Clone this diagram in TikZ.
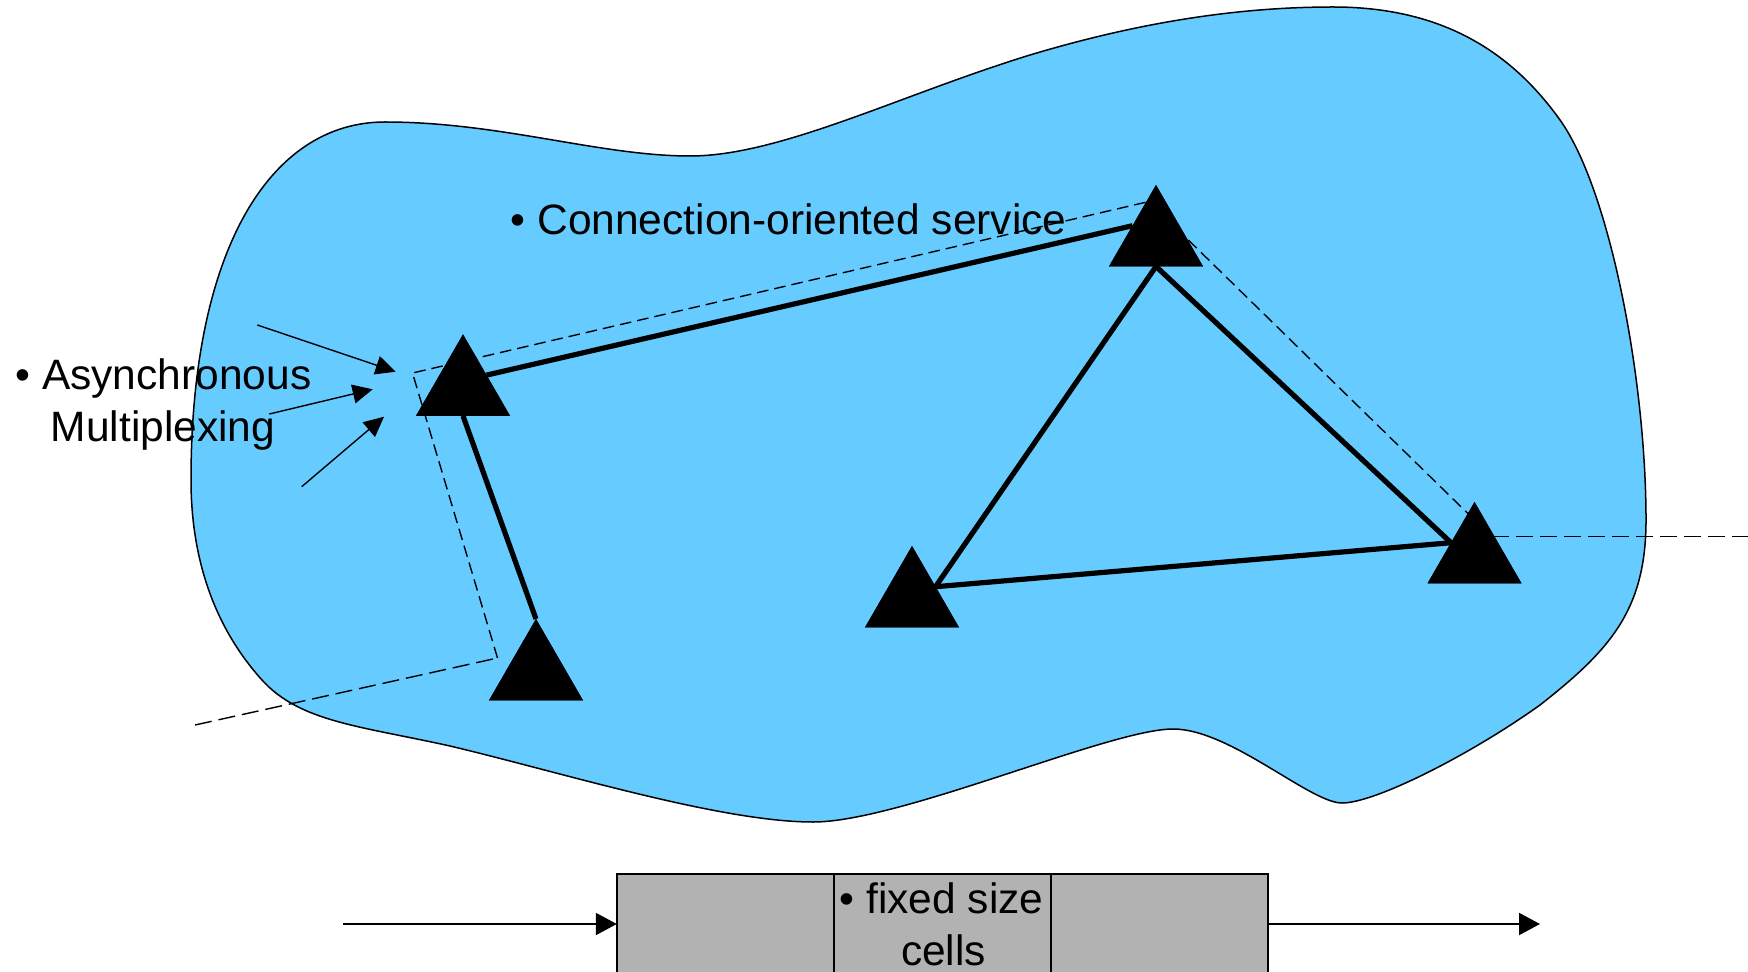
\documentclass[tikz,border=0pt]{standalone}
\usepackage{fontspec}
\setmainfont{Liberation Sans}
\usetikzlibrary{shapes.geometric,arrows.meta}
\definecolor{cloudblue}{HTML}{66CCFF}
\definecolor{cellgray}{HTML}{B2B2B2}
\begin{document}
\begin{tikzpicture}[x=0.5pt,y=-0.5pt,
  switch/.style={regular polygon, regular polygon sides=3, minimum size=54.3pt,
                 inner sep=0pt, outer sep=0pt, fill=black, draw=none},
  trunk/.style={line width=2.6pt},
  vcpath/.style={line width=0.7pt, dash pattern=on 5.8pt off 3pt},
  vclong/.style={line width=0.7pt, dash pattern=on 8.5pt off 3.5pt},
  feed/.style={line width=0.7pt, -{Triangle[length=10pt,width=9.5pt]}},
  flow/.style={line width=1pt, -{Triangle[length=10.5pt,width=11pt]}},
  cell/.style={draw=black, line width=1pt, fill=cellgray, minimum width=108.5pt,
               minimum height=50pt, inner sep=0pt, outer sep=0pt},
  txt/.style={font=\fontsize{21.25pt}{25.85pt}\selectfont, inner sep=0pt, outer sep=0pt}
]
\clip (0,0) rectangle (1748,972);

% the network cloud
\draw[line width=0.75pt, fill=cloudblue]
  (191,480) .. controls (191,250) and (270,122) .. (385,122)
  .. controls (500,122) and (600,156) .. (690,156)
  .. controls (780,156) and (900,95) .. (1030,55)
  .. controls (1130,25) and (1230,7) .. (1333,7)
  .. controls (1440,7) and (1510,50) .. (1560,120)
  .. controls (1610,190) and (1646,380) .. (1646,520)
  .. controls (1646,610) and (1610,650) .. (1540,705)
  .. controls (1470,755) and (1375,803) .. (1342,803)
  .. controls (1310,803) and (1230,729) .. (1173,729)
  .. controls (1110,729) and (900,822) .. (813,822)
  .. controls (720,822) and (560,772) .. (450,746)
  .. controls (360,726) and (300,722) .. (262,680)
  .. controls (215,628) and (191,560) .. (191,480) -- cycle;

% switches
\node[switch] (A) at (463,388.7) {};
\node[switch] (B) at (1156,239.3) {};
\node[switch] (C) at (912,600.3) {};
\node[switch] (D) at (1474.5,556.3) {};
\node[switch] (E) at (536,673.3) {};

% virtual circuit through the cloud
\coordinate (vin)  at (195,725);
\coordinate (vc1)  at (497.5,658);
\coordinate (vc2)  at (412.5,373);
\coordinate (vc3)  at (1149,201.5);
\coordinate (vc4)  at (1491.5,536.7);
\coordinate (vout) at (1760,536.7);
\draw[vclong] (vin) -- (vc1);
\draw[vcpath] (vc1) -- (vc2) -- (vc3) -- (vc4);
\draw[vclong] (vc4) -- (vout);

% trunk links
\draw[trunk] (A.side 3) -- (B.side 1);
\draw[trunk] (A.side 2) -- (E.corner 1);
\draw[trunk] (B.side 2) -- (C.side 3);
\draw[trunk] (B.side 2) -- (D.side 1);
\draw[trunk] (C.side 3) -- (D.side 1);

% redraw switches on top of the links
\foreach \s in {A,B,C,D,E}
  \fill[black] (\s.corner 1) -- (\s.corner 2) -- (\s.corner 3) -- cycle;

% inputs being multiplexed
\coordinate (m1s) at (257.3,325);   \coordinate (m1t) at (395.7,371.7);
\coordinate (m2s) at (269.3,414);   \coordinate (m2t) at (372.7,389.3);
\coordinate (m3s) at (301.7,486.7); \coordinate (m3t) at (384,416.7);
\draw[feed] (m1s) -- (m1t);
\draw[feed] (m2s) -- (m2t);
\draw[feed] (m3s) -- (m3t);

% labels
\node[txt, anchor=base west] (conn) at (510.7,235) {• Connection-oriented service};
\node[txt, anchor=base west] (amux) at (15.5,390) {• Asynchronous};
\node[txt, anchor=base west] (amuxb) at (50.8,441.7) {Multiplexing};

% stream of fixed size cells
\node[cell] (c1) at (725.3,924) {};
\node[cell] (c2) at (942.3,924) {};
\node[cell] (c3) at (1159.3,924) {};
\node[txt, anchor=base] (fs) at (941.5,913) {• fixed size};
\node[txt, anchor=base] (fsb) at (943.5,965) {cells};
\coordinate (src) at (343,924);
\coordinate (dst) at (1540,924);
\draw[flow] (src) -- (c1.west);
\draw[flow] (c3.east) -- (dst);
\end{tikzpicture}
\end{document}
